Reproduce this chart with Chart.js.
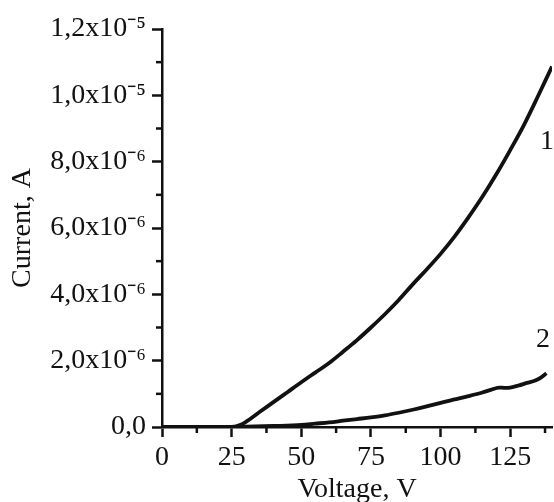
<!DOCTYPE html>
<html>
<head>
<meta charset="utf-8">
<script src="https://cdn.jsdelivr.net/npm/chart.js@4.4.1/dist/chart.umd.min.js"></script>
<style>
    html, body { margin: 0; padding: 0; background: #fff; }
</style>
</head>
<body>
<canvas id="grafico" width="554" height="502"></canvas>
<script>
// Curva 1 (voltaje en V, corriente en A)
const voltage1 = [0, 10, 20, 26, 28, 30, 35, 40, 45, 50, 55, 60, 65, 70, 75, 80, 85, 90, 95, 100, 105, 110, 115, 120, 125, 130, 135, 140];
const current1 = [0, 0, 0, 0.01e-6, 0.06e-6, 0.15e-6, 0.45e-6, 0.75e-6, 1.05e-6, 1.35e-6, 1.64e-6, 1.93e-6, 2.27e-6, 2.62e-6, 3.0e-6, 3.4e-6, 3.83e-6, 4.3e-6, 4.75e-6, 5.22e-6, 5.74e-6, 6.32e-6, 6.94e-6, 7.62e-6, 8.35e-6, 9.12e-6, 9.98e-6, 10.87e-6];

// Curva 2
const voltage2 = [0, 10, 20, 30, 40, 50, 55, 60, 65, 70, 75, 80, 85, 90, 95, 100, 105, 110, 115, 118, 121, 123, 125, 128, 131, 134, 136, 138];
const current2 = [0, 0, 0, 0.01e-6, 0.03e-6, 0.06e-6, 0.1e-6, 0.14e-6, 0.19e-6, 0.24e-6, 0.29e-6, 0.35e-6, 0.43e-6, 0.52e-6, 0.62e-6, 0.73e-6, 0.83e-6, 0.93e-6, 1.04e-6, 1.12e-6, 1.19e-6, 1.18e-6, 1.19e-6, 1.25e-6, 1.33e-6, 1.4e-6, 1.49e-6, 1.62e-6];

// Etiquetas de los ejes
const xTickLabels = ['0', '25', '50', '75', '100', '125'];
const yTickLabels = ['0,0', '2,0x10⁻⁶', '4,0x10⁻⁶', '6,0x10⁻⁶', '8,0x10⁻⁶', '1,0x10⁻⁵', '1,2x10⁻⁵'];
const xMinorTicks = [12.5, 37.5, 62.5, 87.5, 112.5, 137.5];
const yMinorTicks = [1e-6, 3e-6, 5e-6, 7e-6, 9e-6, 11e-6];
const curveNames = ['1', '2'];

const serif = '"Liberation Serif", "Times New Roman", serif';
const ink = '#111';

function toPoints(xs, ys) {
    return xs.map((v, i) => ({ x: v, y: ys[i] }));
}

// Minor ticks y números de las curvas
const extras = {
    id: 'extras',
    afterDraw(chart) {
        const { ctx, scales: { x, y } } = chart;
        ctx.save();
        ctx.strokeStyle = ink;
        ctx.lineWidth = 2.5;
        xMinorTicks.forEach(v => {
            const px = x.getPixelForValue(v);
            ctx.beginPath();
            ctx.moveTo(px, y.bottom);
            ctx.lineTo(px, y.bottom + 6);
            ctx.stroke();
        });
        yMinorTicks.forEach(v => {
            const py = y.getPixelForValue(v);
            ctx.beginPath();
            ctx.moveTo(x.left - 6, py);
            ctx.lineTo(x.left, py);
            ctx.stroke();
        });
        ctx.fillStyle = ink;
        ctx.font = '28px ' + serif;
        ctx.textAlign = 'center';
        ctx.textBaseline = 'middle';
        const spots = [[138.2, 8.6e-6], [136.8, 2.62e-6]];
        curveNames.forEach((t, i) => {
            ctx.fillText(t, x.getPixelForValue(spots[i][0]), y.getPixelForValue(spots[i][1]));
        });
        ctx.restore();
    }
};

const ctx = document.getElementById('grafico').getContext('2d');
const grafico = new Chart(ctx, {
    type: 'line',
    data: {
        datasets: [{
            label: '1',
            data: toPoints(voltage1, current1),
            borderColor: ink,
            borderWidth: 3.8,
            pointRadius: 0,
            cubicInterpolationMode: 'monotone',
            fill: false
        }, {
            label: '2',
            data: toPoints(voltage2, current2),
            borderColor: ink,
            borderWidth: 3.8,
            pointRadius: 0,
            cubicInterpolationMode: 'monotone',
            fill: false
        }]
    },
    options: {
        responsive: false,
        animation: false,
        layout: { padding: { top: 29, right: 2, left: 0, bottom: 0 } },
        plugins: {
            legend: { display: false },
            tooltip: { enabled: false }
        },
        scales: {
            x: {
                type: 'linear',
                min: 0,
                max: 140,
                afterFit: s => { s.height = 75; },
                ticks: {
                    stepSize: 25,
                    includeBounds: false,
                    padding: 4,
                    maxRotation: 0,
                    color: ink,
                    font: { family: serif, size: 28 },
                    callback: (v, i) => xTickLabels[i]
                },
                grid: { drawOnChartArea: false, tickLength: 10, tickWidth: 2.5, tickColor: ink },
                border: { color: ink, width: 2.5 },
                title: {
                    display: true,
                    text: 'Voltage, V',
                    color: ink,
                    font: { family: serif, size: 28, lineHeight: 0.9 },
                    padding: 0
                }
            },
            y: {
                min: 0,
                max: 1.2e-5,
                afterFit: s => { s.width = 162; },
                ticks: {
                    stepSize: 2e-6,
                    padding: 6,
                    color: ink,
                    font: { family: serif, size: 28 },
                    callback: (v, i) => yTickLabels[i]
                },
                grid: { drawOnChartArea: false, tickLength: 10, tickWidth: 2.5, tickColor: ink },
                border: { color: ink, width: 2.5 },
                title: {
                    display: true,
                    text: 'Current, A',
                    color: ink,
                    font: { family: serif, size: 28 },
                    padding: { top: 6, bottom: 0 }
                }
            }
        }
    },
    plugins: [extras]
});
</script>
</body>
</html>
